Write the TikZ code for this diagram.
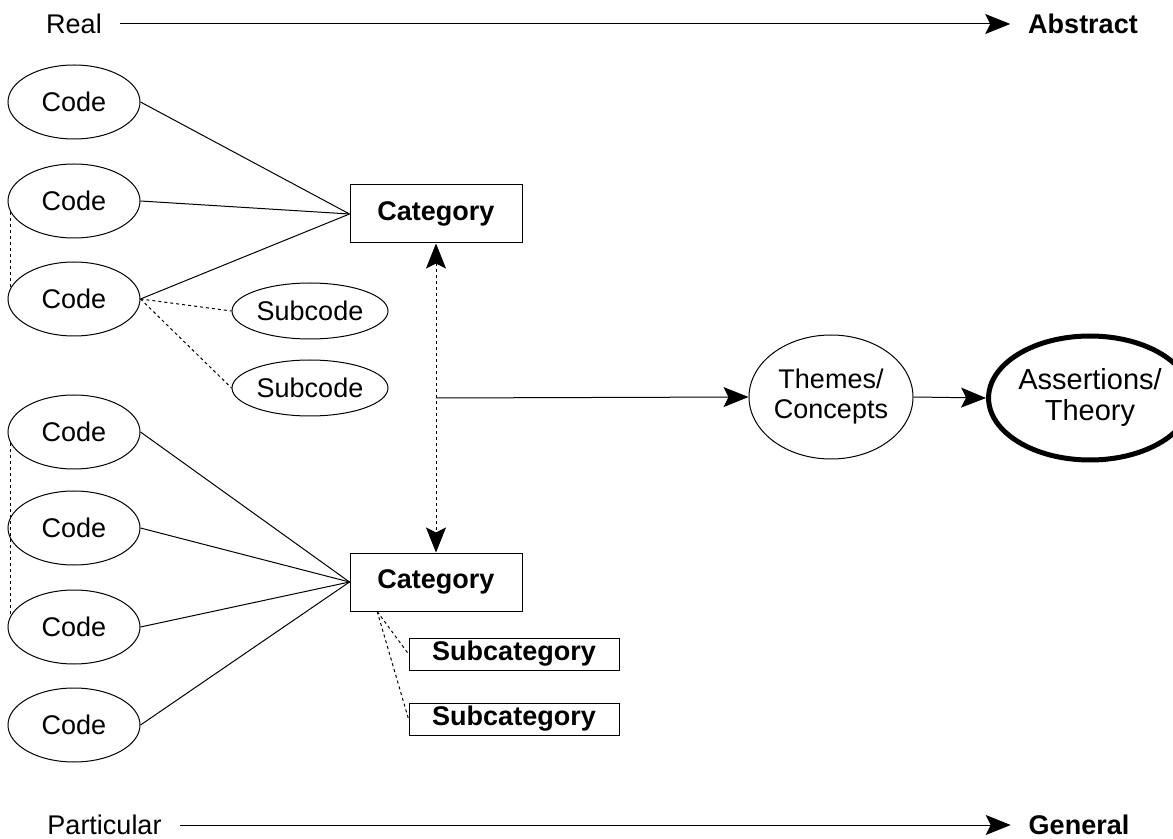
\documentclass[tikz,border=0pt]{standalone}
\usepackage{fontspec}
\setmainfont{Liberation Sans}
\usetikzlibrary{shapes.geometric,arrows.meta,calc}

\begin{document}
\begin{tikzpicture}[x=0.5pt,y=-0.5pt,
  font=\fontsize{13.5}{15}\selectfont,
  line width=0.5pt,
  code/.style={ellipse,draw,minimum width=66pt,minimum height=37pt,inner sep=0pt},
  subcode/.style={ellipse,draw,minimum width=78pt,minimum height=28pt,inner sep=0pt},
  catbox/.style={rectangle,draw,minimum width=86pt,minimum height=29pt,inner sep=0pt,
    font=\fontsize{13.5}{15}\selectfont\bfseries},
  subcat/.style={rectangle,draw,minimum width=105pt,minimum height=16pt,inner sep=0pt,
    font=\fontsize{13.5}{15}\selectfont\bfseries},
  bigoval/.style={ellipse,draw,minimum width=82pt,minimum height=62pt,inner sep=0pt,align=center},
  axislabel/.style={inner xsep=9pt,inner ysep=0pt,outer sep=0pt},
  dotlink/.style={dash pattern=on 1.5pt off 1.5pt},
  bighead/.tip={Stealth[length=12.5pt,width=10pt,inset=2.5pt]},
  head/.style={-{bighead}},
]
\useasboundingbox (0,0) rectangle (1173,839);

% axes along the top and bottom
\node[axislabel] (real) at (74,24) {Real};
\node[axislabel,font=\fontsize{13.5}{15}\selectfont\bfseries] (abstract) at (1083,24) {Abstract};
\draw[head] (real.east) -- (abstract.west);

\node[axislabel] (particular) at (104.5,825) {Particular};
\node[axislabel,font=\fontsize{13.5}{15}\selectfont\bfseries] (general) at (1079,825) {General};
\draw[head] (particular.east) -- (general.west);

% first group of codes
\node[code] (code1) at (74,102) {Code};
\node[code] (code2) at (74,201) {Code};
\node[code] (code3) at (74,299) {Code};
\node[subcode] (sub1) at (310,311) {Subcode};
\node[subcode] (sub2) at (310,388) {Subcode};
\node[catbox] (cat1) at (436,214) {Category};

\draw (code1.east) -- (cat1.west);
\draw (code2.east) -- (cat1.west);
\draw (code3.east) -- (cat1.west);
\draw[dotlink] (code3.east) -- (sub1.west);
\draw[dotlink] (code3.east) -- (sub2.west);
\draw[dotlink] (code2.190) -- (code3.170);

% second group of codes
\node[code] (code4) at (74,432) {Code};
\node[code] (code5) at (74,528) {Code};
\node[code] (code6) at (74,627) {Code};
\node[code] (code7) at (74,725) {Code};
\node[catbox] (cat2) at (436,582) {Category};
\node[subcat] (subcat1) at (514,654) {Subcategory};
\node[subcat] (subcat2) at (514,719) {Subcategory};

\draw (code4.east) -- (cat2.west);
\draw (code5.east) -- (cat2.west);
\draw (code6.east) -- (cat2.west);
\draw (code7.east) -- (cat2.west);
\draw[dotlink] (code4.190) -- (code6.170);

\coordinate (c2s) at ($(cat2.south west)!0.16!(cat2.south east)$);
\draw[dotlink] (c2s) -- (subcat1.west);
\draw[dotlink] (c2s) -- (subcat2.west);

% link between the categories and on to themes and theory
\draw[dotlink,{bighead}-{bighead}] (cat1.south) -- (cat2.north);
\coordinate (mid) at (436,398);

\node[bigoval] (themes) at (831,397) {Themes/\\Concepts};
\node[bigoval,line width=2.5pt,minimum width=80pt,
  font=\fontsize{14.5}{15.5}\selectfont] (theory) at (1090,398) {Assertions/\\Theory};

\draw[head] (mid) -- (themes.west);
\draw[head] (themes.east) -- (theory.west);
\end{tikzpicture}
\end{document}
